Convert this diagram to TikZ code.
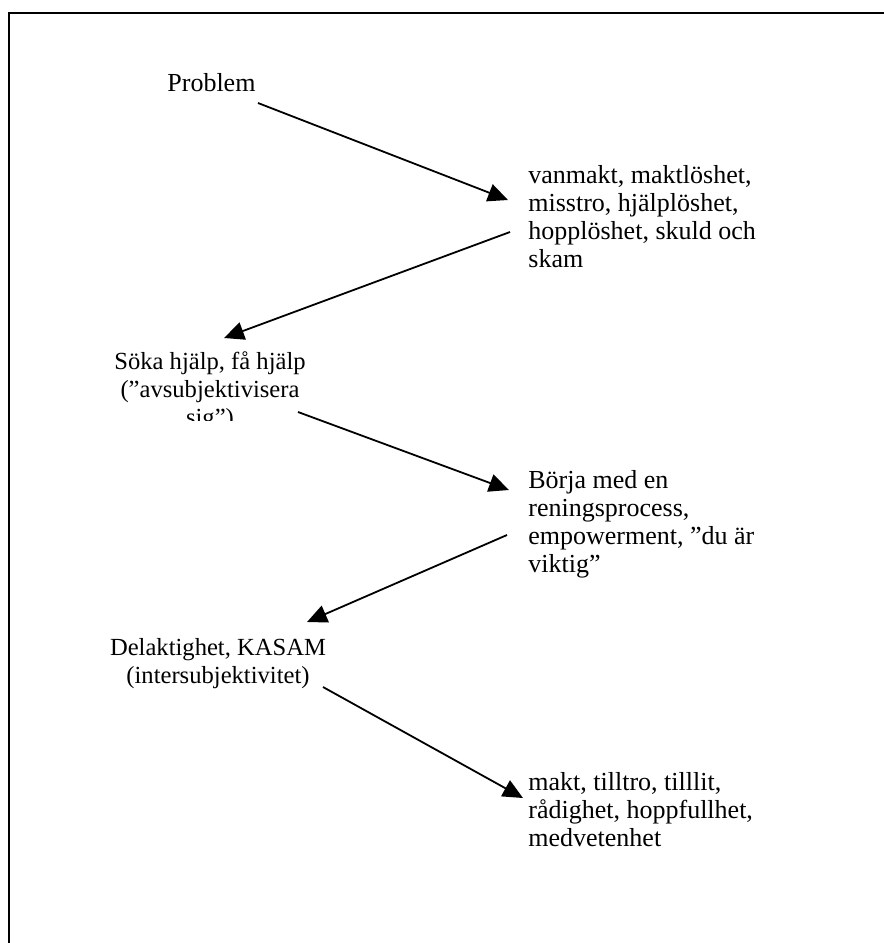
\documentclass[tikz,border=0pt]{standalone}
\usepackage{fontspec}
\setmainfont{Liberation Serif}
\usetikzlibrary{arrows.meta}
\begin{document}
\begin{tikzpicture}[x=0.5pt,y=-0.5pt,
  txt/.style={inner sep=0pt, font=\fontsize{13pt}{14pt}\selectfont},
  ctxt/.style={inner sep=0pt, font=\fontsize{12.3pt}{14pt}\selectfont},
  conn/.style={line width=0.9pt, -{Triangle[length=10pt,width=9pt]}},
  frame/.style={line width=1.2pt}]
\useasboundingbox (0,0) rectangle (884,943);
\draw[frame] (9,943) -- (9,13) -- (884,13);

\node[txt, anchor=base west] (problem) at (167,91) {Problem};
\node[txt, anchor=base west] (van) at (528,183) {\parbox[t]{140pt}{\raggedright vanmakt, maktlöshet,\\ misstro, hjälplöshet,\\ hopplöshet, skuld och\\ skam}};
\begin{scope}
\clip (0,0) rectangle (884,420);
\node[ctxt, anchor=base] (soka) at (210,369) {\parbox[t]{130pt}{\centering Söka hjälp, få hjälp\\ (”avsubjektivisera\\ sig”)}};
\end{scope}
\node[txt, anchor=base west] (borja) at (528,488) {\parbox[t]{140pt}{\raggedright Börja med en\\ reningsprocess,\\ empowerment, ”du är\\ viktig”}};
\node[ctxt, anchor=base] (del) at (218,655) {\parbox[t]{140pt}{\centering Delaktighet, KASAM\\ (intersubjektivitet)}};
\node[txt, anchor=base west] (makt) at (528,790) {\parbox[t]{140pt}{\raggedright makt, tilltro, tilllit,\\ rådighet, hoppfullhet,\\ medvetenhet}};

\coordinate (s1) at (258,103); \coordinate (e1) at (508,200);
\coordinate (s2) at (510,232); \coordinate (e2) at (224,338);
\coordinate (s3) at (298,412); \coordinate (e3) at (509,490);
\coordinate (s4) at (507,535); \coordinate (e4) at (307,622);
\coordinate (s5) at (323,687); \coordinate (e5) at (523,798);
\draw[conn] (s1) -- (e1);
\draw[conn] (s2) -- (e2);
\draw[conn] (s3) -- (e3);
\draw[conn] (s4) -- (e4);
\draw[conn] (s5) -- (e5);
\end{tikzpicture}
\end{document}
